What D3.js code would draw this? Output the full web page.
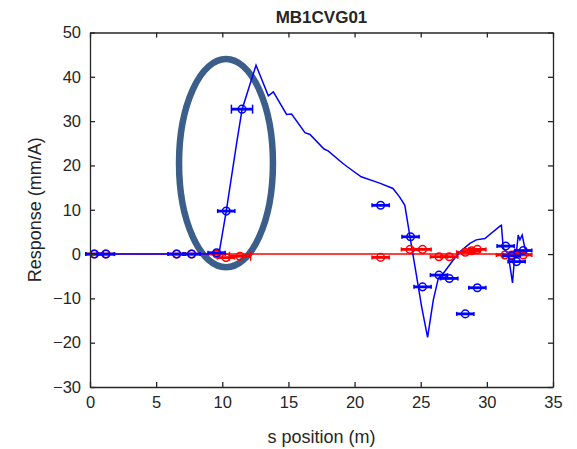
<!DOCTYPE html>
<html><head><meta charset="utf-8">
<script src="https://cdn.jsdelivr.net/npm/d3@7"></script>
<style>body{margin:0;background:#fff}svg{display:block}text{font-family:"Liberation Sans",Arial,sans-serif;fill:#262626}</style>
</head><body><svg id="c" width="577" height="449"></svg>
<script>
const title = "MB1CVG01";
const xLabel = "s position (m)";
const yLabel = "Response (mm/A)";
const xTicks = [0,5,10,15,20,25,30,35];
const yTicks = [-30,-20,-10,0,10,20,30,40,50];

// model curves
const blueCurveX = [0,9.6,9.75,10.3,11.1,11.5,12.55,13.48,13.86,14.86,15.24,16.25,16.63,17.69,18.0,19.1,19.45,20.5,21.9,22.9,23.4,23.8,24.19,24.57,25.07,25.52,25.95,26.33,26.7,27.46,27.96,28.72,29.2,29.85,30.99,31.1,31.24,31.6,31.94,32.1,32.25,32.37,32.5,32.67,32.88,33.0];
const blueCurveY = [0,0,0.1,9.7,25.3,32.7,42.6,35.7,36.6,31.5,31.6,27.4,27.0,23.7,23.3,20.5,19.7,17.45,16.0,14.8,12.9,11.0,3.9,-2.9,-11.9,-18.8,-10.4,-5.5,-4.4,-1.35,0.5,2.4,3.2,3.5,6.3,6.5,1.3,0.15,-6.5,-0.6,0.9,4.3,3.2,4.3,1.3,1.0];
const redCurveX = [0,33.4];
const redCurveY = [0,0];

// measured points with horizontal error
const blueX = [0.33,1.2,6.55,7.68,9.57,10.3,11.49,21.97,24.23,25.14,26.38,27.16,28.37,29.28,31.42,31.87,32.25,32.75];
const blueY = [0,0,0,0,0.3,9.7,32.7,11.0,3.9,-7.4,-4.75,-5.5,-13.5,-7.6,1.8,-0.4,-1.7,0.8];
const blueErr = [0.65,0.65,0.65,0.65,0.65,0.65,0.8,0.65,0.65,0.65,0.65,0.65,0.65,0.65,0.65,0.65,0.65,0.65];
const redX = [0.33,1.2,6.55,7.68,9.57,10.28,11.34,21.97,24.19,25.14,26.38,27.16,28.37,28.85,29.28,31.37,31.87,32.25,32.75];
const redY = [0,0,0,0,0,-0.8,-0.5,-0.75,1.05,1.05,-0.6,-0.6,0.4,0.75,1.05,-0.2,-0.2,0.15,-0.2];
const redErr = [0.65,0.65,0.65,0.65,0.65,0.65,0.8,0.65,0.65,0.65,0.65,0.65,0.65,0.65,0.65,0.65,0.65,0.65,0.65];

// highlight ellipse (data units)
const ellipseCenter = [10.28, 20.5];
const ellipseRadii = [3.55, 23.5];

const svg = d3.select("#c");
const L=90, R=553, T=32.5, B=387;
const x = d3.scaleLinear().domain([0,35]).range([L,R]);
const y = d3.scaleLinear().domain([-30,50]).range([B,T]);
const axisColor="#262626";

svg.append("ellipse")
  .attr("cx", x(ellipseCenter[0])).attr("cy", y(ellipseCenter[1]))
  .attr("rx", x(ellipseRadii[0])-x(0)).attr("ry", y(0)-y(ellipseRadii[1]))
  .attr("fill","none").attr("stroke","#3b5f8a").attr("stroke-width",6.5);

const line = d3.line().x(d=>x(d[0])).y(d=>y(d[1]));
svg.append("path").datum(redCurveX.map((v,i)=>[v,redCurveY[i]]))
  .attr("d",line).attr("fill","none").attr("stroke","#ff0000").attr("stroke-width",1.5);
svg.append("path").datum(blueCurveX.map((v,i)=>[v,blueCurveY[i]]))
  .attr("d",line).attr("fill","none").attr("stroke","#0000ff").attr("stroke-width",1.5);

function drawPts(xs, ys, es, color){
  const g = svg.append("g");
  xs.forEach((xv,i)=>{
    const cx=x(xv), cy=y(ys[i]), x0=x(xv-es[i]), x1=x(xv+es[i]);
    const ch = es[i] > 0.7 ? 4.5 : 2;
    const gg=g.append("g").attr("stroke",color).attr("fill","none");
    gg.append("line").attr("x1",x0).attr("x2",x1).attr("y1",cy).attr("y2",cy).attr("stroke-width",2.8);
    gg.append("line").attr("x1",x0).attr("x2",x0).attr("y1",cy-ch).attr("y2",cy+ch).attr("stroke-width",1.5);
    gg.append("line").attr("x1",x1).attr("x2",x1).attr("y1",cy-ch).attr("y2",cy+ch).attr("stroke-width",1.5);
    gg.append("circle").attr("cx",cx).attr("cy",cy).attr("r",3.8).attr("stroke-width",1.5);
  });
}
drawPts(redX, redY, redErr, "#ff0000");
drawPts(blueX, blueY, blueErr, "#0000ff");

const ax = svg.append("g");
const gBottom = ax.append("g").attr("transform",`translate(0,${B})`).call(d3.axisBottom(x).tickValues(xTicks).tickSizeInner(-5).tickSizeOuter(0).tickPadding(9));
const gTop = ax.append("g").attr("transform",`translate(0,${T})`).call(d3.axisTop(x).tickValues(xTicks).tickSizeInner(-5).tickSizeOuter(0).tickFormat(""));
const gLeft = ax.append("g").attr("transform",`translate(${L},0)`).call(d3.axisLeft(y).tickValues(yTicks).tickSizeInner(-5).tickSizeOuter(0).tickPadding(9));
const gRight = ax.append("g").attr("transform",`translate(${R},0)`).call(d3.axisRight(y).tickValues(yTicks).tickSizeInner(-5).tickSizeOuter(0).tickFormat(""));
[gBottom,gTop,gLeft,gRight].forEach(g=>{
  g.selectAll("path").attr("stroke",axisColor).attr("stroke-width",1.3);
  g.selectAll("line").attr("stroke",axisColor).attr("stroke-width",1.3);
  g.selectAll("text").attr("font-size",16.5).attr("fill",axisColor).style("font-family","Liberation Sans, Arial, sans-serif");
});

svg.append("text").attr("x",(L+R)/2).attr("y",23).attr("text-anchor","middle")
  .attr("font-size",17).attr("font-weight","bold").attr("fill","#000").text(title);
svg.append("text").attr("x",(L+R)/2).attr("y",443).attr("text-anchor","middle")
  .attr("font-size",18).text(xLabel);
svg.append("text").attr("transform",`translate(41,${(T+B)/2}) rotate(-90)`).attr("text-anchor","middle")
  .attr("font-size",18).text(yLabel);
</script></body></html>
